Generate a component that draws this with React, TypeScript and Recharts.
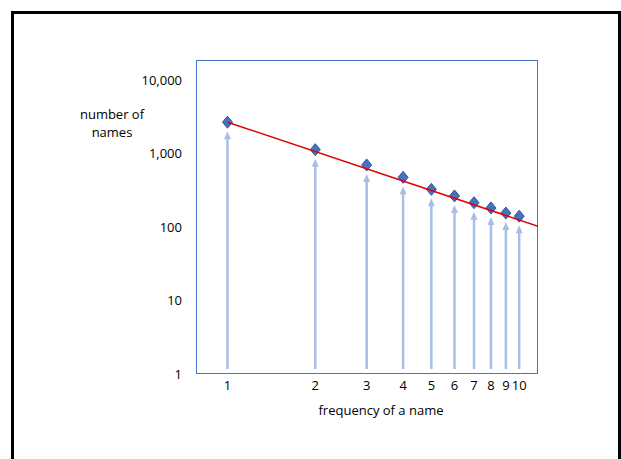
import React from 'react';
import { ScatterChart, Scatter, XAxis, YAxis } from 'recharts';

// frequency of a name (x) vs number of names (y), log-log
const frequency = [1, 2, 3, 4, 5, 6, 7, 8, 9, 10];
const nameCounts = [2700, 1140, 705, 478, 328, 267, 216, 183, 156, 141];

// power-law trend line end points
const trendX = [1, 11.6];
const trendY = [2700, 103];

const xTicks = [1, 2, 3, 4, 5, 6, 7, 8, 9, 10];
const yTicks = [1, 10, 100, 1000, 10000];

const points = frequency.map((f, i) => ({ x: f, y: nameCounts[i] }));
const trend = trendX.map((x, i) => ({ x, y: trendY[i] }));

// layout
const W = 621;
const H = 459;
const PLOT_LEFT = 196;
const PLOT_TOP = 60;
const PLOT_RIGHT = 538;
const PLOT_BOTTOM = 374;
const Y_AXIS_W = 60;
const X_AXIS_H = 30;
const FONT = '"Open Sans", sans-serif';

const ARROW = '#a7bee6';
const DIAMOND = '#4472c4';

// diamond marker with a light arrow rising from the bottom of the plot
const PointShape = (props: any) => {
  const { cx, cy } = props;
  const base = PLOT_BOTTOM - 5;
  const tip = cy + 9;
  return (
    <g>
      <line x1={cx} x2={cx} y1={base} y2={tip + 6} stroke={ARROW} strokeWidth={2.5} />
      <polygon points={`${cx},${tip} ${cx - 3.5},${tip + 8} ${cx + 3.5},${tip + 8}`} fill={ARROW} />
      <polygon
        points={`${cx},${cy - 6} ${cx + 5},${cy} ${cx},${cy + 6} ${cx - 5},${cy}`}
        fill={DIAMOND}
        stroke="#2f5597"
        strokeWidth={1}
      />
    </g>
  );
};

const App: React.FC = () => {
  return (
    <div
      style={{
        position: 'absolute',
        left: 0,
        top: 0,
        width: W,
        height: H,
        overflow: 'hidden',
        background: '#fff',
        fontFamily: FONT,
      }}
    >
      {/* black frame */}
      <div
        style={{
          position: 'absolute',
          left: 11,
          top: 11,
          width: 610,
          height: 470,
          border: '3px solid #000',
          boxSizing: 'border-box',
        }}
      />
      {/* plot box */}
      <div
        style={{
          position: 'absolute',
          left: PLOT_LEFT,
          top: PLOT_TOP,
          width: PLOT_RIGHT - PLOT_LEFT,
          height: PLOT_BOTTOM - PLOT_TOP,
          border: '1.5px solid #4472c4',
          boxSizing: 'border-box',
        }}
      />
      <div
        style={{
          position: 'absolute',
          left: 62,
          top: 105,
          width: 100,
          textAlign: 'center',
          fontSize: 13,
          lineHeight: '18px',
          color: '#000',
        }}
      >
        number of
        <br />
        names
      </div>
      <div style={{ position: 'absolute', left: 0, top: 0 }}>
        <ScatterChart
          width={W}
          height={H}
          margin={{
            top: PLOT_TOP,
            left: PLOT_LEFT - Y_AXIS_W,
            right: W - PLOT_RIGHT,
            bottom: H - PLOT_BOTTOM - X_AXIS_H,
          }}
        >
          <XAxis
            type="number"
            dataKey="x"
            scale="log"
            domain={[0.78, 11.6]}
            allowDataOverflow
            ticks={xTicks}
            interval={0}
            height={X_AXIS_H}
            axisLine={false}
            tickLine={false}
            tickSize={0}
            tickMargin={7}
            tick={{ fill: '#000', fontSize: 13, fontFamily: FONT }}
            label={{
              value: 'frequency of a name',
              position: 'insideBottom',
              offset: -11,
              dx: 14,
              style: { fill: '#000', fontSize: 13, fontFamily: FONT },
            }}
          />
          <YAxis
            type="number"
            dataKey="y"
            scale="log"
            domain={[1, 19000]}
            allowDataOverflow
            ticks={yTicks}
            interval={0}
            width={Y_AXIS_W}
            axisLine={false}
            tickLine={false}
            tickSize={0}
            tickMargin={14}
            tickFormatter={(v: number) => v.toLocaleString('en-US')}
            tick={{ fill: '#000', fontSize: 13, fontFamily: FONT }}
          />
          <Scatter data={points} shape={PointShape} isAnimationActive={false} />
          <Scatter
            data={trend}
            line={{ stroke: '#e00000', strokeWidth: 1.5 }}
            shape={() => <g />}
            isAnimationActive={false}
          />
        </ScatterChart>
      </div>
    </div>
  );
};

export default App;
